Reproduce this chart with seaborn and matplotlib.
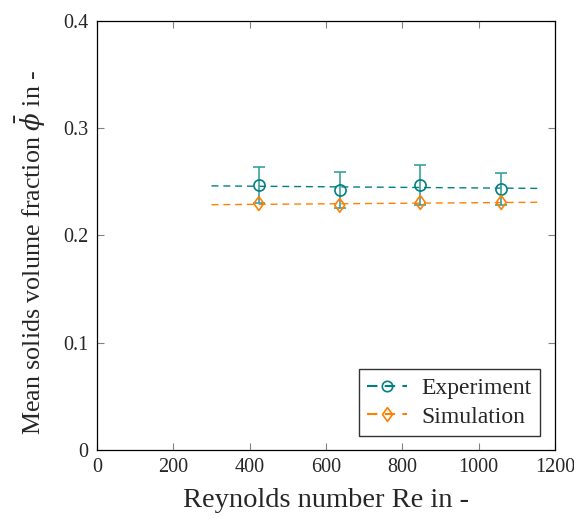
import numpy as np
import pandas as pd
import matplotlib
matplotlib.use("Agg")
import matplotlib.pyplot as plt
from matplotlib.lines import Line2D
import seaborn as sns

# values
reynolds = [424, 636, 847, 1059]
phi_exp = [0.2471, 0.2424, 0.2471, 0.2436]
phi_exp_err = [0.0165, 0.0168, 0.0184, 0.0150]
phi_sim = [0.2298, 0.2282, 0.2308, 0.2308]
fit_range = [300, 1160]

teal = "#008080"
orange = "#ff8000"
diamond = [(0, 1), (0.72, 0), (0, -1), (-0.72, 0), (0, 1)]
dash = (0, (5, 3.5))

sns.set_theme(style="ticks")
plt.rcParams["font.family"] = ["Liberation Serif", "DejaVu Serif"]
plt.rcParams["mathtext.fontset"] = "dejavuserif"

fig = plt.figure(figsize=(5.74, 5.19), dpi=100)
ax = fig.add_axes([0.169, 0.133, 0.798, 0.8265])

# linear fits through the data, drawn over the measured range
x_fit = np.array(fit_range, dtype=float)
fits = []
for name, y in [("Experiment", phi_exp), ("Simulation", phi_sim)]:
    k, d = np.polyfit(reynolds, y, 1)
    fits.append(pd.DataFrame({"Re": x_fit, "phi": k * x_fit + d, "case": name}))
df_fit = pd.concat(fits)

sns.lineplot(data=df_fit, x="Re", y="phi", hue="case", palette=[teal, orange],
             linestyle=dash, linewidth=1.0, legend=False, ax=ax)

ax.errorbar(reynolds, phi_exp, yerr=phi_exp_err, fmt="o", color=teal, mfc="none",
            ms=8, mew=1.2, elinewidth=1.2, capsize=4.5, capthick=1.2,
            ecolor="#3a9f9f")
sns.scatterplot(x=reynolds, y=phi_sim, marker=diamond, s=100, facecolor="none",
                edgecolor=orange, linewidth=1.2, ax=ax, zorder=3)

ax.set_xlim(0, 1200)
ax.set_ylim(0, 0.4)
ax.set_xticks([0, 200, 400, 600, 800, 1000, 1200])
ax.set_yticks([0, 0.1, 0.2, 0.3, 0.4])
ax.set_yticklabels(["0", "0.1", "0.2", "0.3", "0.4"])
ax.tick_params(direction="in", top=True, right=True, length=5, width=0.8,
               color="#808080", labelsize=14.5, pad=6)
for s in ax.spines.values():
    s.set_color("black")
    s.set_linewidth(0.9)

ax.set_xlabel("Reynolds number Re in -", fontsize=20.5, labelpad=8)
ax.set_ylabel(r"Mean solids volume fraction $\bar{\phi}$ in -", fontsize=18.7)
ax.yaxis.set_label_coords(-0.108, 0.46)

handles = [
    Line2D([], [], color=teal, linestyle=dash, marker="o", mfc="none", ms=7.5, mew=1.2),
    Line2D([], [], color=orange, linestyle=dash, marker=diamond, mfc="none", ms=10, mew=1.2),
]
leg = ax.legend(handles, ["Experiment", "Simulation"], loc="lower right",
                bbox_to_anchor=(0.967, 0.033), borderaxespad=0, fontsize=17,
                frameon=True, fancybox=False, edgecolor="black",
                handlelength=1.7, handletextpad=0.6, borderpad=0.35,
                labelspacing=0.3)
leg.get_frame().set_linewidth(1.0)

fig.savefig("out.png", dpi=100)
